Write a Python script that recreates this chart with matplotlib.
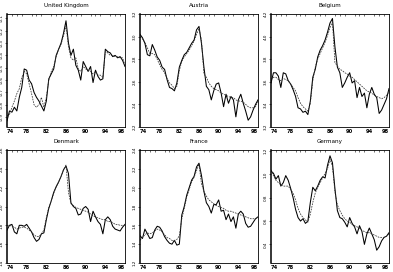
import numpy as np
import matplotlib
matplotlib.use("Agg")
import matplotlib.pyplot as plt
from matplotlib.ticker import MultipleLocator

# half-yearly observations 1974.0 .. 1998.0
years = 1974 + 0.5 * np.arange(49)

uk_act = [-0.93, -0.85, -0.86, -0.82, -0.85, -0.74, -0.66, -0.51, -0.52, -0.60,
          -0.63, -0.70, -0.74, -0.77, -0.81, -0.85, -0.77, -0.59, -0.55, -0.51,
          -0.40, -0.35, -0.30, -0.22, -0.12, -0.30, -0.40, -0.35, -0.48, -0.52,
          -0.60, -0.45, -0.49, -0.53, -0.49, -0.62, -0.52, -0.57, -0.60, -0.59,
          -0.35, -0.37, -0.38, -0.41, -0.40, -0.42, -0.41, -0.44, -0.49]
uk_fit = [-0.89, -0.88, -0.82, -0.77, -0.71, -0.67, -0.58, -0.53, -0.55, -0.63,
          -0.71, -0.80, -0.82, -0.80, -0.74, -0.82, -0.74, -0.60, -0.53, -0.49,
          -0.41, -0.35, -0.31, -0.24, -0.16, -0.33, -0.42, -0.44, -0.42, -0.51,
          -0.53, -0.49, -0.51, -0.52, -0.53, -0.55, -0.53, -0.56, -0.56, -0.58,
          -0.37, -0.38, -0.40, -0.40, -0.41, -0.41, -0.42, -0.42, -0.48]

at_act = [3.02, 2.99, 2.94, 2.84, 2.83, 2.93, 2.88, 2.82, 2.79, 2.73,
          2.71, 2.62, 2.55, 2.54, 2.52, 2.59, 2.73, 2.79, 2.84, 2.86,
          2.90, 2.94, 2.97, 3.06, 3.09, 2.94, 2.73, 2.56, 2.53, 2.44,
          2.52, 2.58, 2.59, 2.50, 2.38, 2.49, 2.41, 2.47, 2.44, 2.29,
          2.44, 2.49, 2.41, 2.34, 2.26, 2.29, 2.35, 2.40, 2.44]
at_fit = [3.00, 2.98, 2.95, 2.90, 2.85, 2.85, 2.84, 2.80, 2.75, 2.71,
          2.68, 2.63, 2.59, 2.57, 2.54, 2.56, 2.70, 2.78, 2.82, 2.85,
          2.88, 2.92, 2.96, 3.02, 3.07, 2.97, 2.67, 2.64, 2.59, 2.56,
          2.54, 2.53, 2.52, 2.50, 2.49, 2.48, 2.47, 2.46, 2.46, 2.44,
          2.43, 2.43, 2.42, 2.40, 2.38, 2.37, 2.37, 2.38, 2.43]

be_act = [3.59, 3.68, 3.68, 3.65, 3.55, 3.68, 3.67, 3.61, 3.58, 3.53,
          3.47, 3.37, 3.36, 3.33, 3.34, 3.31, 3.43, 3.64, 3.71, 3.82,
          3.88, 3.92, 3.97, 4.04, 4.12, 4.16, 3.91, 3.73, 3.68, 3.55,
          3.59, 3.64, 3.68, 3.59, 3.61, 3.46, 3.55, 3.47, 3.50, 3.37,
          3.49, 3.55, 3.49, 3.46, 3.32, 3.35, 3.40, 3.45, 3.54]
be_fit = [3.62, 3.64, 3.64, 3.62, 3.61, 3.63, 3.62, 3.61, 3.58, 3.55,
          3.52, 3.46, 3.41, 3.38, 3.36, 3.34, 3.41, 3.61, 3.73, 3.80,
          3.85, 3.90, 3.95, 4.01, 4.08, 4.13, 3.77, 3.74, 3.71, 3.70,
          3.68, 3.67, 3.65, 3.64, 3.62, 3.60, 3.58, 3.56, 3.54, 3.52,
          3.51, 3.50, 3.48, 3.47, 3.46, 3.45, 3.46, 3.48, 3.51]

dk_act = [1.75, 1.80, 1.81, 1.73, 1.71, 1.80, 1.80, 1.79, 1.81, 1.77,
          1.73, 1.67, 1.63, 1.65, 1.71, 1.72, 1.86, 1.98, 2.06, 2.15,
          2.21, 2.26, 2.32, 2.39, 2.43, 2.35, 2.04, 2.00, 1.98, 1.91,
          1.92, 1.98, 2.00, 1.97, 1.84, 1.95, 1.89, 1.84, 1.81, 1.71,
          1.86, 1.89, 1.86, 1.79, 1.76, 1.75, 1.74, 1.78, 1.81]
dk_fit = [1.80, 1.80, 1.79, 1.78, 1.76, 1.77, 1.78, 1.78, 1.77, 1.75,
          1.73, 1.70, 1.68, 1.68, 1.71, 1.75, 1.88, 1.99, 2.06, 2.14,
          2.21, 2.26, 2.32, 2.39, 2.44, 2.15, 2.03, 2.01, 1.99, 1.98,
          1.97, 1.96, 1.95, 1.94, 1.92, 1.90, 1.89, 1.88, 1.87, 1.86,
          1.86, 1.84, 1.84, 1.83, 1.81, 1.81, 1.80, 1.80, 1.80]

fr_act = [1.49, 1.46, 1.56, 1.51, 1.46, 1.47, 1.55, 1.59, 1.58, 1.54,
          1.48, 1.44, 1.41, 1.40, 1.44, 1.39, 1.40, 1.71, 1.80, 1.92,
          2.00, 2.08, 2.12, 2.22, 2.26, 2.13, 1.96, 1.84, 1.80, 1.73,
          1.82, 1.82, 1.87, 1.75, 1.76, 1.66, 1.72, 1.64, 1.69, 1.57,
          1.72, 1.75, 1.72, 1.62, 1.58, 1.59, 1.63, 1.67, 1.69]
fr_fit = [1.44, 1.47, 1.50, 1.52, 1.51, 1.52, 1.54, 1.56, 1.55, 1.53,
          1.50, 1.47, 1.46, 1.44, 1.44, 1.45, 1.49, 1.67, 1.78, 1.90,
          1.98, 2.06, 2.11, 2.18, 2.25, 2.04, 1.96, 1.91, 1.87, 1.85,
          1.83, 1.81, 1.80, 1.79, 1.78, 1.76, 1.75, 1.75, 1.74, 1.73,
          1.72, 1.71, 1.70, 1.69, 1.68, 1.67, 1.67, 1.67, 1.68]

de_act = [1.03, 1.01, 0.96, 0.99, 0.90, 0.93, 0.99, 0.95, 0.88, 0.80,
          0.70, 0.63, 0.60, 0.62, 0.58, 0.60, 0.76, 0.89, 0.86, 0.90,
          0.95, 0.98, 0.97, 1.08, 1.16, 1.10, 0.88, 0.69, 0.63, 0.62,
          0.59, 0.55, 0.63, 0.58, 0.55, 0.49, 0.56, 0.51, 0.40, 0.49,
          0.54, 0.49, 0.44, 0.35, 0.38, 0.43, 0.46, 0.47, 0.50]
de_fit = [1.04, 0.99, 0.95, 0.93, 0.91, 0.90, 0.90, 0.90, 0.87, 0.84,
          0.78, 0.71, 0.66, 0.63, 0.61, 0.59, 0.66, 0.76, 0.84, 0.89,
          0.93, 0.97, 1.01, 1.05, 1.13, 1.07, 0.85, 0.74, 0.69, 0.65,
          0.62, 0.60, 0.59, 0.57, 0.56, 0.55, 0.54, 0.52, 0.51, 0.50,
          0.50, 0.49, 0.48, 0.47, 0.46, 0.46, 0.46, 0.47, 0.49]

names = ["United Kingdom", "Austria", "Belgium", "Denmark", "France", "Germany"]
actual = [uk_act, at_act, be_act, dk_act, fr_act, de_act]
fitted = [uk_fit, at_fit, be_fit, dk_fit, fr_fit, de_fit]
ylims = [(-0.98, -0.065), (2.2, 3.2), (3.2, 4.2), (1.4, 2.6), (1.2, 2.4), (0.24, 1.21)]
ysteps = [0.1, 0.2, 0.2, 0.2, 0.2, 0.2]
xticks = [74, 78, 82, 86, 90, 94, 98]

W, H = 393, 272
fig = plt.figure(figsize=(W / 100, H / 100), dpi=100)
lefts = [7, 140, 271]
tops = [14, 150]

for k in range(6):
    r, c = divmod(k, 3)
    x0, y0 = lefts[c], tops[r]
    ax = fig.add_axes([x0 / W, 1 - (y0 + 113) / H, 118 / W, 113 / H])
    ax.plot(years, actual[k], color="black", lw=0.75)
    ax.plot(years, fitted[k], color="0.2", lw=0.55, dashes=(2.2, 1.3))
    ax.set_xlim(1974, 1998)
    ax.set_ylim(*ylims[k])
    lo, hi = ylims[k]
    st = ysteps[k]
    yt = np.arange(np.ceil(lo / st - 1e-6) * st, hi + 1e-6, st)
    ax.set_yticks(yt)
    ax.set_yticklabels(["%.1f" % v for v in yt], rotation=90, va="center", fontsize=3)
    ax.set_xticks([1900 + t for t in xticks])
    labs = ax.set_xticklabels([str(t) for t in xticks], fontsize=3.7, fontweight="bold")
    labs[0].set_ha("left")
    labs[-1].set_ha("right")
    ax.xaxis.set_minor_locator(MultipleLocator(1))
    ax.tick_params(axis="x", which="major", length=0, pad=1.5)
    ax.tick_params(axis="x", which="minor", bottom=False, top=True, direction="in", length=1.2, width=0.4)
    ax.tick_params(axis="y", length=1.5, width=0.4, pad=0.8)
    for s in ["top", "right", "bottom"]:
        ax.spines[s].set_linewidth(0.6)
    ax.spines["left"].set_linewidth(1.1)
    ax.set_title(names[k], fontsize=4.1, pad=5)

fig.savefig("out.png", dpi=100)
